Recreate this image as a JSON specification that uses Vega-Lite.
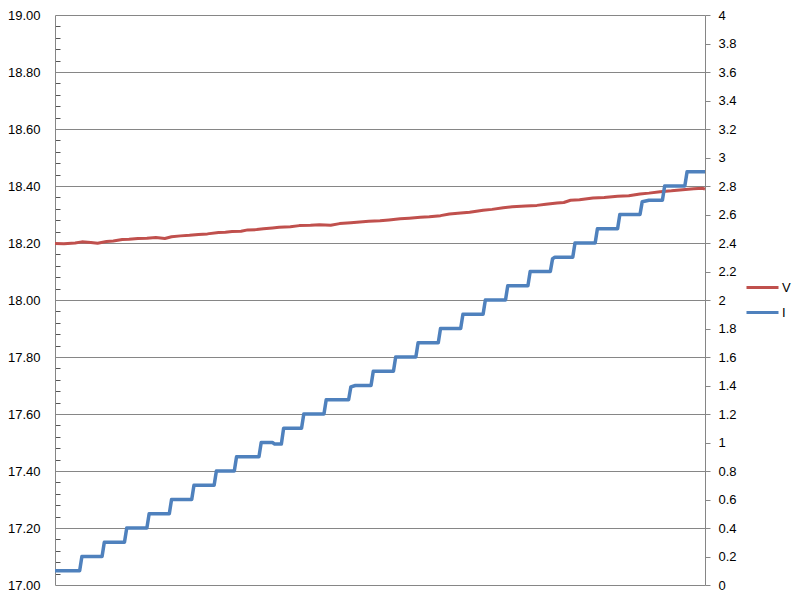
{
  "$schema": "https://vega.github.io/schema/vega-lite/v6.json",
  "width": 650,
  "height": 570,
  "autosize": "none",
  "padding": {"left": 55, "top": 15, "right": 95, "bottom": 16},
  "background": "white",
  "config": {
    "view": {"stroke": null},
    "font": "Liberation Sans",
    "axis": {"domainColor": "#868686", "tickColor": "#868686", "gridColor": "#868686", "gridOpacity": 1, "labelColor": "#000000", "labelFontSize": 13, "titleFontSize": 13}
  },
  "datasets": {
    "v": [
      {"t": 0, "V": 18.198}, {"t": 4, "V": 18.197}, {"t": 9, "V": 18.200}, {"t": 12, "V": 18.204},
      {"t": 16, "V": 18.202}, {"t": 19, "V": 18.199}, {"t": 23, "V": 18.205}, {"t": 26, "V": 18.207},
      {"t": 30, "V": 18.212}, {"t": 33, "V": 18.213}, {"t": 37, "V": 18.216}, {"t": 41, "V": 18.217},
      {"t": 45, "V": 18.219}, {"t": 49, "V": 18.216}, {"t": 52, "V": 18.222}, {"t": 56, "V": 18.225},
      {"t": 60, "V": 18.227}, {"t": 64, "V": 18.230}, {"t": 68, "V": 18.232}, {"t": 73, "V": 18.237},
      {"t": 76, "V": 18.238}, {"t": 79, "V": 18.240}, {"t": 83, "V": 18.241}, {"t": 86, "V": 18.246},
      {"t": 90, "V": 18.247}, {"t": 93, "V": 18.250}, {"t": 97, "V": 18.253}, {"t": 100, "V": 18.255},
      {"t": 105, "V": 18.257}, {"t": 109, "V": 18.261}, {"t": 114, "V": 18.262}, {"t": 118, "V": 18.264},
      {"t": 123, "V": 18.262}, {"t": 127, "V": 18.268}, {"t": 132, "V": 18.271}, {"t": 136, "V": 18.274},
      {"t": 140, "V": 18.276}, {"t": 145, "V": 18.278}, {"t": 149, "V": 18.281}, {"t": 154, "V": 18.285},
      {"t": 158, "V": 18.287}, {"t": 163, "V": 18.290}, {"t": 167, "V": 18.292}, {"t": 172, "V": 18.296},
      {"t": 176, "V": 18.302}, {"t": 181, "V": 18.305}, {"t": 185, "V": 18.308}, {"t": 191, "V": 18.315},
      {"t": 195, "V": 18.318}, {"t": 200, "V": 18.324}, {"t": 204, "V": 18.327}, {"t": 210, "V": 18.330},
      {"t": 215, "V": 18.332}, {"t": 219, "V": 18.336}, {"t": 224, "V": 18.340}, {"t": 227, "V": 18.342},
      {"t": 230, "V": 18.350}, {"t": 234, "V": 18.352}, {"t": 240, "V": 18.358}, {"t": 245, "V": 18.360},
      {"t": 251, "V": 18.364}, {"t": 256, "V": 18.366}, {"t": 261, "V": 18.372}, {"t": 265, "V": 18.375},
      {"t": 270, "V": 18.380}, {"t": 275, "V": 18.383}, {"t": 280, "V": 18.387}, {"t": 285, "V": 18.390},
      {"t": 289, "V": 18.392}, {"t": 290, "V": 18.389}
    ],
    "i": [
      {"t": 0, "I": 0.1}, {"t": 11, "I": 0.1}, {"t": 12, "I": 0.2}, {"t": 21, "I": 0.2},
      {"t": 22, "I": 0.3}, {"t": 31, "I": 0.3}, {"t": 32, "I": 0.4}, {"t": 41, "I": 0.4},
      {"t": 42, "I": 0.5}, {"t": 51, "I": 0.5}, {"t": 52, "I": 0.6}, {"t": 61, "I": 0.6},
      {"t": 62, "I": 0.7}, {"t": 71, "I": 0.7}, {"t": 72, "I": 0.8}, {"t": 80, "I": 0.8},
      {"t": 81, "I": 0.9}, {"t": 91, "I": 0.9}, {"t": 92, "I": 1.0}, {"t": 97, "I": 1.0},
      {"t": 98, "I": 0.99}, {"t": 101, "I": 0.99}, {"t": 102, "I": 1.1}, {"t": 110, "I": 1.1},
      {"t": 111, "I": 1.2}, {"t": 120, "I": 1.2}, {"t": 121, "I": 1.3}, {"t": 131, "I": 1.3},
      {"t": 132, "I": 1.39}, {"t": 134, "I": 1.4}, {"t": 141, "I": 1.4}, {"t": 142, "I": 1.5},
      {"t": 151, "I": 1.5}, {"t": 152, "I": 1.6}, {"t": 161, "I": 1.6}, {"t": 162, "I": 1.7},
      {"t": 171, "I": 1.7}, {"t": 172, "I": 1.8}, {"t": 181, "I": 1.8}, {"t": 182, "I": 1.9},
      {"t": 191, "I": 1.9}, {"t": 192, "I": 2.0}, {"t": 201, "I": 2.0}, {"t": 202, "I": 2.1},
      {"t": 211, "I": 2.1}, {"t": 212, "I": 2.2}, {"t": 221, "I": 2.2}, {"t": 222, "I": 2.29},
      {"t": 223, "I": 2.3}, {"t": 231, "I": 2.3}, {"t": 232, "I": 2.4}, {"t": 241, "I": 2.4},
      {"t": 242, "I": 2.5}, {"t": 251, "I": 2.5}, {"t": 252, "I": 2.6}, {"t": 261, "I": 2.6},
      {"t": 262, "I": 2.69}, {"t": 265, "I": 2.7}, {"t": 271, "I": 2.7}, {"t": 272, "I": 2.8},
      {"t": 281, "I": 2.8}, {"t": 282, "I": 2.9}, {"t": 290, "I": 2.9}
    ]
  },
  "layer": [
    {
      "data": {"name": "v"},
      "mark": {"type": "line", "opacity": 0},
      "encoding": {
        "x": {"field": "t", "type": "quantitative", "scale": {"domain": [0, 290], "nice": false, "zero": false}, "axis": null},
        "y": {"field": "V", "type": "quantitative", "scale": {"domain": [17, 19], "nice": false, "zero": false},
          "axis": {"orient": "left", "title": null, "labels": false, "grid": false, "domain": false, "ticks": true, "tickSize": 5, "offset": -5, "tickColor": "#555555",
            "values": [17.04, 17.08, 17.12, 17.16, 17.24, 17.28, 17.32, 17.36, 17.44, 17.48, 17.52, 17.56, 17.64, 17.68, 17.72, 17.76, 17.84, 17.88, 17.92, 17.96, 18.04, 18.08, 18.12, 18.16, 18.24, 18.28, 18.32, 18.36, 18.44, 18.48, 18.52, 18.56, 18.64, 18.68, 18.72, 18.76, 18.84, 18.88, 18.92, 18.96]}}
      }
    },
    {
      "data": {"name": "v"},
      "mark": {"type": "line", "strokeWidth": 3, "strokeJoin": "round"},
      "encoding": {
        "x": {"field": "t", "type": "quantitative", "scale": {"domain": [0, 290], "nice": false, "zero": false},
          "axis": {"orient": "bottom", "title": null, "labels": false, "ticks": false, "grid": false, "domain": true}},
        "y": {"field": "V", "type": "quantitative", "scale": {"domain": [17, 19], "nice": false, "zero": false},
          "axis": {"orient": "left", "title": null, "format": ".2f", "grid": true, "ticks": false, "tickSize": 0, "labelPadding": 15, "domain": true,
            "values": [17, 17.2, 17.4, 17.6, 17.8, 18, 18.2, 18.4, 18.6, 18.8, 19]}},
        "color": {"datum": "V", "type": "nominal",
          "scale": {"domain": ["V", "I"], "range": ["#C0504D", "#4F81BD"]},
          "legend": {"title": null, "orient": "none", "legendX": 690, "legendY": 255, "symbolType": "stroke", "symbolSize": 1024, "symbolStrokeWidth": 3, "labelFontSize": 13, "labelColor": "#000000", "labelOffset": 2, "rowPadding": -7, "padding": 0}}
      }
    },
    {
      "data": {"name": "i"},
      "mark": {"type": "line", "strokeWidth": 3.5, "strokeJoin": "round"},
      "encoding": {
        "x": {"field": "t", "type": "quantitative", "scale": {"domain": [0, 290], "nice": false, "zero": false}},
        "y": {"field": "I", "type": "quantitative", "scale": {"domain": [0, 4], "nice": false, "zero": false},
          "axis": {"orient": "right", "title": null, "format": "~g", "grid": false, "ticks": true, "tickSize": 5, "labelPadding": 8, "domain": true,
            "values": [0, 0.2, 0.4, 0.6, 0.8, 1, 1.2, 1.4, 1.6, 1.8, 2, 2.2, 2.4, 2.6, 2.8, 3, 3.2, 3.4, 3.6, 3.8, 4]}},
        "color": {"datum": "I", "type": "nominal"}
      }
    }
  ],
  "resolve": {"scale": {"y": "independent"}}
}
